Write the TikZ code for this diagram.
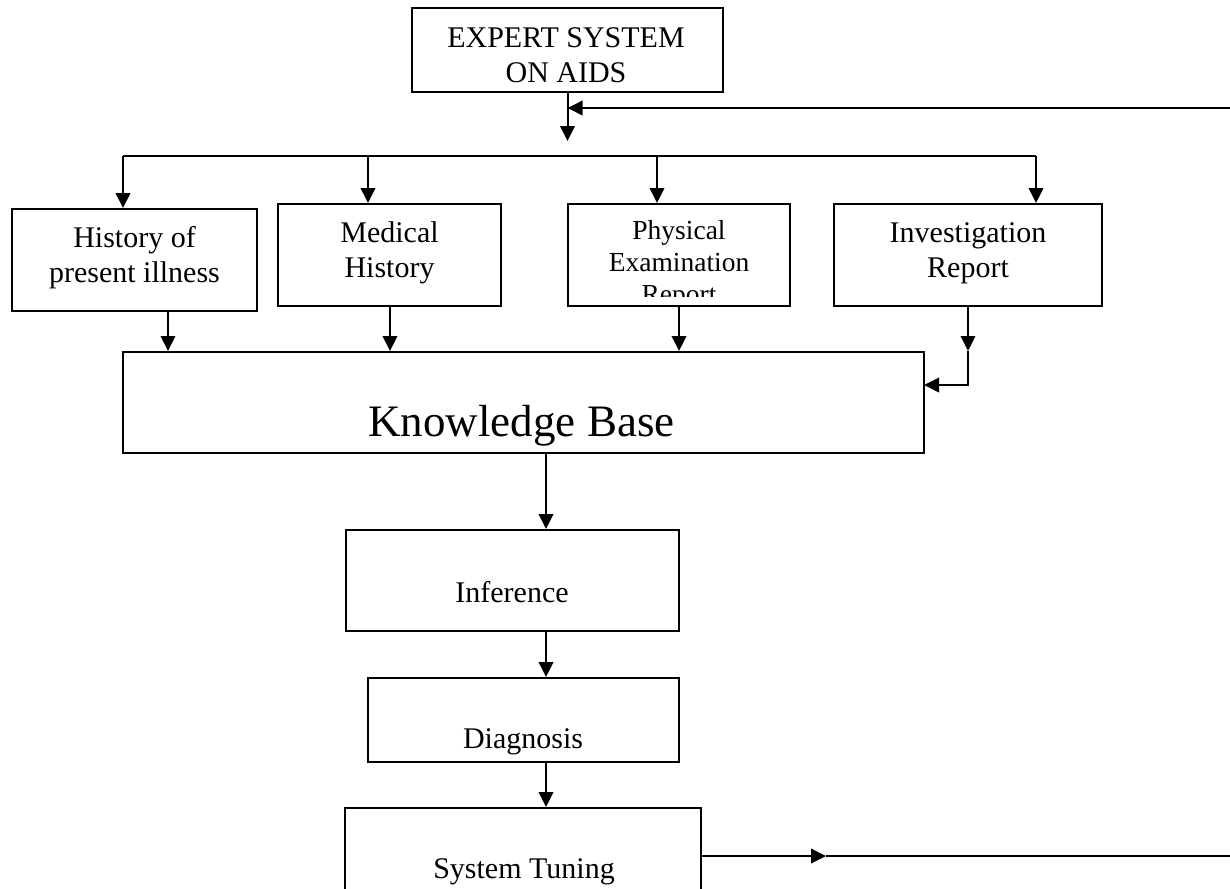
\documentclass[tikz,border=0pt]{standalone}
\usepackage{fontspec}
\setmainfont{Liberation Serif}
\usetikzlibrary{arrows.meta}

\tikzset{
  box/.style={draw, rectangle, line width=0.8pt, inner sep=0pt},
  lbl/.style={inner sep=0pt, anchor=base, align=center, font=\fontsize{12}{14}\selectfont},
  arr/.style={line width=0.8pt, -{Triangle[length=6pt,width=5.8pt]}},
  ln/.style={line width=0.8pt}
}

\begin{document}
\begin{tikzpicture}[x=0.4pt,y=-0.4pt]
  \clip (0,0) rectangle (1230,888);

  % boxes
  \node[box, minimum width=124.4pt, minimum height=33.6pt] (expert) at (567.5,50) {};
  \node[box, minimum width=98pt, minimum height=40.8pt] (hist) at (134.5,260) {};
  \node[box, minimum width=89.2pt, minimum height=40.8pt] (med) at (389.5,255) {};
  \node[box, minimum width=88.8pt, minimum height=40.8pt] (phys) at (679,255) {};
  \node[box, minimum width=107.2pt, minimum height=40.8pt] (inv) at (968,255) {};
  \node[box, minimum width=320.4pt, minimum height=40.4pt] (kb) at (523.5,402.5) {};
  \node[box, minimum width=133.2pt, minimum height=40.4pt] (inf) at (512.5,580.5) {};
  \node[box, minimum width=124.4pt, minimum height=33.6pt] (diag) at (523.5,720) {};
  \node[box, minimum width=142.4pt, minimum height=44.8pt] (tune) at (523,864) {};

  % texts (base = last line)
  \node[lbl] (experttxt) at (566,82) {EXPERT SYSTEM\\ON AIDS};
  \node[lbl] (histtxt) at (134.5,282) {History of\\present illness};
  \node[lbl] (medtxt) at (389.5,277) {Medical\\History};
  \begin{scope}
    \clip (568,204) rectangle (790,296);
    \node[lbl, font=\fontsize{11}{12.8}\selectfont] (phystxt) at (679,303) {Physical\\Examination\\Report};
  \end{scope}
  \node[lbl] (invtxt) at (968,277) {Investigation\\Report};
  \node[lbl, font=\fontsize{18}{21}\selectfont] (kbtxt) at (521.5,436) {Knowledge Base};
  \node[lbl] (inftxt) at (512,602) {Inference};
  \node[lbl] (diagtxt) at (523,748) {Diagnosis};
  \node[lbl] (tunetxt) at (524,878) {System Tuning};

  % connectors
  \coordinate (split) at (567.5,141);
  \coordinate (fbin) at (1230,108);
  \coordinate (outend) at (1230,856);
  \coordinate (outmid) at (826,856);
  \coordinate (kbin) at (924,385);

  \draw[arr] (expert.south) -- (split);
  \draw[arr] (fbin) -- (expert.south |- fbin);

  \draw[ln] (123,156) -- (1036,156);
  \foreach \b/\x in {hist/123, med/368, phys/657, inv/1036}
    \draw[arr] (\x,156) -- (\x,156 |- \b.north);

  \foreach \b/\x in {hist/168, med/390, phys/679}
    \draw[arr] (\x,0 |- \b.south) -- (\x,0 |- kb.north);
  \draw[arr] (inv.south) -- (inv.south |- kb.north);
  \draw[arr] (inv.south |- kb.north) |- (kbin);

  \draw[arr] (546,0 |- kb.south) -- (546,0 |- inf.north);
  \draw[arr] (546,0 |- inf.south) -- (546,0 |- diag.north);
  \draw[arr] (546,0 |- diag.south) -- (546,0 |- tune.north);

  \draw[arr] (tune.east |- outend) -- (outmid);
  \draw[ln] (outmid) -- (outend);
\end{tikzpicture}
\end{document}
